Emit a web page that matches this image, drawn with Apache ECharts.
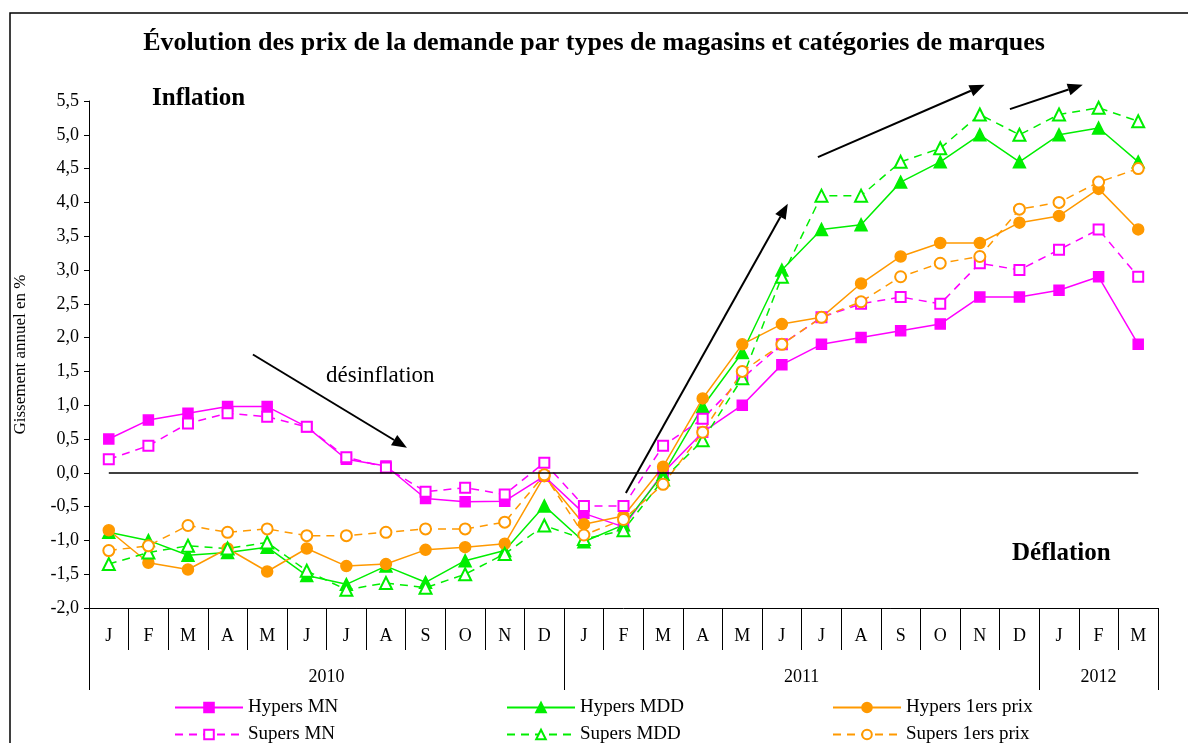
<!DOCTYPE html>
<html style="height: 100%">
<head>
    <meta charset="utf-8">
    <script src="https://cdn.jsdelivr.net/npm/echarts@6.0.0/dist/echarts.min.js"></script>
</head>
<body style="height:100%;margin:0;background:#fff">
    <div id="main" style="width:1188px;height:743px;"></div>
    <script type="text/javascript">

        // axe des abscisses : mois puis années
        var months = ['J','F','M','A','M','J','J','A','S','O','N','D',
                      'J','F','M','A','M','J','J','A','S','O','N','D',
                      'J','F','M'];
        var years = ['2010', '2011', '2012'];
        var yearSpans = [12, 12, 3];

        // glissement annuel en %
        var hypersMN   = [0.5, 0.78, 0.88, 0.98, 0.98, 0.68, 0.2, 0.1, -0.38, -0.43, -0.42, -0.05,
                          -0.6, -0.8, 0.0, 0.6, 1.0, 1.6, 1.9, 2.0, 2.1, 2.2, 2.6, 2.6,
                          2.7, 2.9, 1.9];
        var supersMN   = [0.2, 0.4, 0.73, 0.88, 0.83, 0.68, 0.23, 0.08, -0.28, -0.22, -0.32, 0.15,
                          -0.49, -0.49, 0.4, 0.8, 1.4, 1.9, 2.3, 2.5, 2.6, 2.5, 3.1, 3.0,
                          3.3, 3.6, 2.9];
        var hypersMDD  = [-0.88, -1.0, -1.22, -1.18, -1.1, -1.52, -1.65, -1.38, -1.62, -1.3, -1.15, -0.49,
                          -1.02, -0.77, -0.02, 0.98, 1.78, 3.0, 3.6, 3.67, 4.3, 4.6, 5.0, 4.6,
                          5.0, 5.1, 4.6];
        var supersMDD  = [-1.35, -1.18, -1.08, -1.12, -1.03, -1.45, -1.73, -1.63, -1.7, -1.5, -1.2, -0.78,
                          -0.98, -0.85, -0.1, 0.48, 1.4, 2.9, 4.1, 4.1, 4.6, 4.8, 5.3, 5.0,
                          5.3, 5.4, 5.2];
        var hypers1ers = [-0.85, -1.33, -1.43, -1.12, -1.46, -1.12, -1.38, -1.35, -1.14, -1.1, -1.05, -0.05,
                          -0.76, -0.64, 0.09, 1.1, 1.9, 2.2, 2.3, 2.8, 3.2, 3.4, 3.4, 3.7,
                          3.8, 4.2, 3.6];
        var supers1ers = [-1.15, -1.08, -0.78, -0.88, -0.83, -0.93, -0.93, -0.88, -0.83, -0.83, -0.73, -0.03,
                          -0.92, -0.69, -0.17, 0.6, 1.5, 1.9, 2.3, 2.53, 2.9, 3.1, 3.2, 3.9,
                          4.0, 4.3, 4.5];

        // flèches d'annotation [x début, y début, x fin, y fin] (index de mois, %)
        var arrows = [
            [3.64, 1.75, 7.53, 0.37],
            [13.06, -0.30, 17.15, 3.98],
            [17.91, 4.67, 22.12, 5.74],
            [22.76, 5.38, 24.6, 5.74]
        ];

        var SERIF = 'Liberation Serif';
        var MAGENTA = '#ff00ff', GREEN = '#00ee00', ORANGE = '#ff9900';

        // bornes et milieux des années sur l'axe des années
        var yearTicks = [0], yearMids = [];
        yearSpans.forEach(function(s, i){
            yearMids.push(yearTicks[i] + s / 2);
            yearTicks.push(yearTicks[i] + s);
        });

        function serie(name, data, color, symbol, size, dashed){
            return {
                name: name,
                type: 'line',
                data: data,
                xAxisIndex: 0,
                symbol: symbol,
                symbolSize: size,
                showAllSymbol: true,
                itemStyle: { color: color, borderColor: color, borderWidth: 1.5 },
                lineStyle: { color: color, width: 1.5, type: dashed ? [8, 6] : 'solid' }
            };
        }

        var series = [
            serie('Hypers MN', hypersMN, MAGENTA, 'rect', 10, false),
            serie('Hypers MDD', hypersMDD, GREEN, 'triangle', 12, false),
            serie('Hypers 1ers prix', hypers1ers, ORANGE, 'circle', 11, false),
            serie('Supers MN', supersMN, MAGENTA, 'emptyRect', 10, true),
            serie('Supers MDD', supersMDD, GREEN, 'emptyTriangle', 12, true),
            serie('Supers 1ers prix', supers1ers, ORANGE, 'emptyCircle', 11, true)
        ];
        // ligne du zéro
        series[0].markLine = {
            silent: true,
            symbol: 'none',
            label: { show: false },
            lineStyle: { color: '#000', width: 1.5, type: 'solid' },
            data: [[{ coord: [0, 0] }, { coord: [months.length - 1, 0] }]]
        };

        function legendCol(left, names){
            return {
                left: left,
                top: 697,
                height: 80,
                orient: 'vertical',
                itemWidth: 68,
                itemHeight: 12,
                itemGap: 6,
                padding: 0,
                data: names,
                textStyle: { fontFamily: SERIF, fontSize: 19, lineHeight: 21, color: '#000' }
            };
        }

        var myChart = echarts.init(document.getElementById('main'));
        var option = {
            backgroundColor: '#fff',
            animation: false,
            title: {
                text: 'Évolution des prix de la demande par types de magasins et catégories de marques',
                left: 'center',
                top: 25,
                textStyle: { fontFamily: SERIF, fontSize: 26, fontWeight: 'bold', color: '#000' }
            },
            legend: [
                legendCol(174, ['Hypers MN', 'Supers MN']),
                legendCol(506, ['Hypers MDD', 'Supers MDD']),
                legendCol(832, ['Hypers 1ers prix', 'Supers 1ers prix'])
            ],
            grid: { left: 89, right: 30, top: 101, bottom: 135, containLabel: false, outerBoundsMode: 'none' },
            xAxis: [
                {
                    type: 'category',
                    data: months,
                    boundaryGap: true,
                    axisLine: { show: true, onZero: false, lineStyle: { color: '#000', width: 1 } },
                    axisTick: { show: true, interval: 0, length: 42, lineStyle: { color: '#000', width: 1 } },
                    axisLabel: { interval: 0, margin: 19, fontFamily: SERIF, fontSize: 18, color: '#000' }
                },
                {
                    type: 'value',
                    min: 0,
                    max: yearTicks[yearTicks.length - 1],
                    position: 'bottom',
                    axisLine: { show: false, onZero: false },
                    splitLine: { show: false },
                    axisTick: { show: true, length: 82, customValues: yearTicks, lineStyle: { color: '#000' } },
                    axisLabel: {
                        margin: 60,
                        customValues: yearMids,
                        fontFamily: SERIF, fontSize: 18, color: '#000',
                        formatter: function(v){
                            var i = yearMids.indexOf(v);
                            return i >= 0 ? years[i] : '';
                        }
                    }
                }
            ],
            yAxis: {
                type: 'value',
                min: -2,
                max: 5.5,
                interval: 0.5,
                name: 'Gissement annuel en %',
                nameLocation: 'middle',
                nameGap: 60,
                nameTextStyle: { fontFamily: SERIF, fontSize: 17, color: '#000' },
                axisLine: { show: true, onZero: false, lineStyle: { color: '#000', width: 1 } },
                axisTick: { show: true, length: 5, lineStyle: { color: '#000' } },
                splitLine: { show: false },
                axisLabel: {
                    margin: 10,
                    fontFamily: SERIF, fontSize: 18, color: '#000',
                    formatter: function(v){ return v.toFixed(1).replace('.', ','); }
                }
            },
            series: series
        };
        myChart.setOption(option);

        // cadre, textes et flèches
        var graphics = [
            { type: 'rect', silent: true, z: -1,
              shape: { x: 10, y: 13, width: 1200, height: 760 },
              style: { fill: 'none', stroke: '#000', lineWidth: 1.5 } },
            { type: 'text', left: 152, top: 86,
              style: { text: 'Inflation', font: 'bold 25px "Liberation Serif"', fill: '#000' } },
            { type: 'text', left: 326, top: 364,
              style: { text: 'désinflation', font: '23px "Liberation Serif"', fill: '#000' } },
            { type: 'text', left: 1012, top: 541,
              style: { text: 'Déflation', font: 'bold 25px "Liberation Serif"', fill: '#000' } }
        ];
        arrows.forEach(function(a){
            var p1 = myChart.convertToPixel({ xAxisIndex: 1, yAxisIndex: 0 }, [a[0] + 0.5, a[1]]);
            var p2 = myChart.convertToPixel({ xAxisIndex: 1, yAxisIndex: 0 }, [a[2] + 0.5, a[3]]);
            var ang = Math.atan2(p2[1] - p1[1], p2[0] - p1[0]);
            var hl = 15, hw = 6;
            var bx = p2[0] - hl * Math.cos(ang), by = p2[1] - hl * Math.sin(ang);
            graphics.push({ type: 'line', silent: true,
                shape: { x1: p1[0], y1: p1[1], x2: bx, y2: by },
                style: { stroke: '#000', lineWidth: 2 } });
            graphics.push({ type: 'polygon', silent: true,
                shape: { points: [
                    [p2[0], p2[1]],
                    [bx + hw * Math.sin(ang), by - hw * Math.cos(ang)],
                    [bx - hw * Math.sin(ang), by + hw * Math.cos(ang)]
                ] },
                style: { fill: '#000' } });
        });
        myChart.setOption({ graphic: graphics });
    </script>
</body>
</html>
